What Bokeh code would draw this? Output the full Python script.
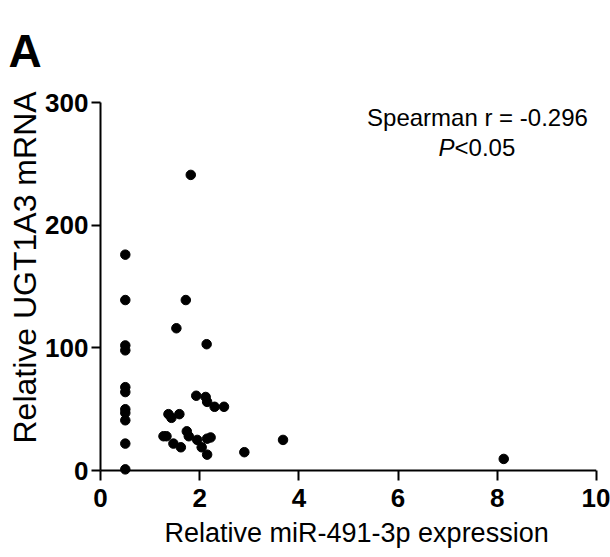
from bokeh.plotting import figure
from bokeh.models import Range1d, Span, Label, FixedTicker, Title
from bokeh.embed import file_html
from bokeh.resources import INLINE

# Relative miR-491-3p expression (x) and relative UGT1A3 mRNA (y)
mir_expr = [0.5, 0.5, 0.5, 0.5, 0.5, 0.5, 0.5, 0.5, 0.5, 0.5, 0.5,
            1.82, 1.72, 1.53, 2.14, 1.93, 2.12, 2.15, 2.30, 2.49,
            1.37, 1.43, 1.59, 1.74, 1.78, 1.27, 1.33, 1.95, 2.15, 2.22,
            1.47, 1.62, 2.04, 2.15, 2.90, 3.68, 8.13]
ugt_mrna = [176, 139, 102, 98, 68, 64, 50, 47, 41, 22, 1,
            241, 139, 116, 103, 61, 60, 56, 52, 52,
            46, 43, 46, 32, 28, 28, 28, 25, 26, 27,
            22, 19, 19, 13, 15, 25, 9.5]
x_ticks = [0, 2, 4, 6, 8, 10]
y_ticks = [0, 100, 200, 300]
panel_letter = "A"
x_label = "Relative miR-491-3p expression"
y_label = "Relative UGT1A3 mRNA"
stat_line = "Spearman r = -0.296"
p_symbol = "P"
p_value = "<0.05"

FONT = "Liberation Sans"

p = figure(width=610, height=557,
           x_range=Range1d(0, 10), y_range=Range1d(-4, 300),
           output_backend="svg", toolbar_location=None,
           min_border_left=100, min_border_right=14,
           min_border_top=102, min_border_bottom=82)
p.outline_line_color = None
p.xgrid.visible = False
p.ygrid.visible = False
p.background_fill_color = "white"
p.border_fill_color = "white"

# the two real axes
xa = p.below[0]
ya = p.left[0]

# x axis line at y = 0
p.add_layout(Span(location=0, dimension="width", line_color="black", line_width=2))

xa.ticker = FixedTicker(ticks=x_ticks)
xa.axis_line_alpha = 0
xa.major_tick_in = 5
xa.major_tick_out = 5
xa.major_tick_line_width = 2
xa.major_tick_line_color = "black"
xa.minor_tick_line_color = None
xa.major_label_text_font = FONT
xa.major_label_text_font_size = "26px"
xa.major_label_text_font_style = "bold"
xa.major_label_text_color = "black"
xa.major_label_standoff = 8

ya.ticker = FixedTicker(ticks=y_ticks)
ya.bounds = (0, 300)
ya.axis_line_width = 2
ya.axis_line_color = "black"
ya.major_tick_in = 0
ya.major_tick_out = 9
ya.major_tick_line_width = 2
ya.major_tick_line_color = "black"
ya.minor_tick_line_color = None
ya.major_label_text_font = FONT
ya.major_label_text_font_size = "26px"
ya.major_label_text_font_style = "bold"
ya.major_label_text_color = "black"
ya.major_label_standoff = 3

# panel letter
p.add_layout(Title(text=panel_letter, text_font=FONT, text_font_size="46px",
                   text_font_style="bold", text_color="black", align="left",
                   vertical_align="top", offset=-92, standoff=48), "above")

# axis titles placed as side titles so they can be shifted along the axis
p.add_layout(Title(text=x_label, text_font=FONT, text_font_size="27px",
                   text_font_style="normal", text_color="black", align="left",
                   vertical_align="top", offset=64, standoff=16), "below")
p.add_layout(Title(text=y_label, text_font=FONT, text_font_size="32px",
                   text_font_style="normal", text_color="black", align="left",
                   vertical_align="bottom", offset=32, standoff=0), "left")

p.scatter(mir_expr, ugt_mrna, size=9.5, color="black", marker="circle")

p.add_layout(Label(x=7.6, y=288, text=stat_line, text_font=FONT, text_font_size="24px",
                   text_align="center", text_baseline="middle", text_color="black"))
p.add_layout(Label(x=6.815, y=263, text=p_symbol, text_font=FONT, text_font_size="24px",
                   text_font_style="italic", text_align="left", text_baseline="middle",
                   text_color="black"))
p.add_layout(Label(x=6.815, y=263, x_offset=16, text=p_value, text_font=FONT,
                   text_font_size="24px", text_align="left", text_baseline="middle",
                   text_color="black"))

open("out.html", "w").write(file_html(p, INLINE))
